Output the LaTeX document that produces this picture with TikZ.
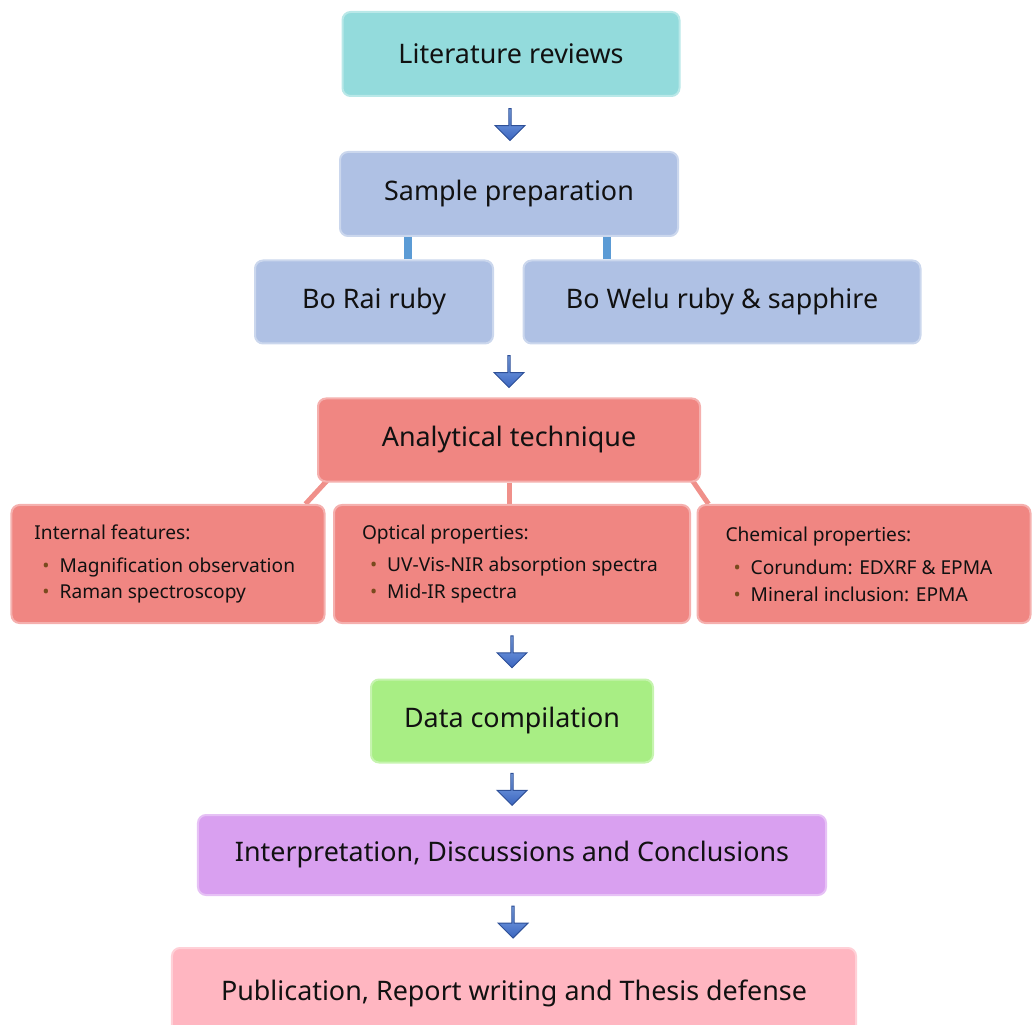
\documentclass[tikz,border=0pt]{standalone}
\usepackage{fontspec}
\setmainfont{Noto Sans}
\usetikzlibrary{positioning,backgrounds,calc,shapes.arrows}

\definecolor{litcol}{HTML}{93DBDC}
\definecolor{prepcol}{HTML}{AFC1E4}
\definecolor{anacol}{HTML}{F08682}
\definecolor{datacol}{HTML}{A8EE84}
\definecolor{intcol}{HTML}{D9A0F0}
\definecolor{pubcol}{HTML}{FFB6C1}
\definecolor{barcol}{HTML}{5B9BD5}
\definecolor{tiecol}{HTML}{F0908A}
\definecolor{dotcol}{HTML}{7A4A1E}
\definecolor{txtcol}{HTML}{111111}
\definecolor{arrtop}{HTML}{86ADEB}
\definecolor{arrbot}{HTML}{3A64BE}

\newcommand{\bitem}[1]{\hspace*{1.6mm}\textcolor{dotcol}{\textbullet}\hspace{2mm}#1}

\tikzset{
  box/.style={rectangle, rounded corners=1.6mm, fill=#1, draw=#1!65!white,
    line width=0.4mm, text=txtcol, align=center, inner sep=0pt,
    font=\fontsize{15.3}{18}\selectfont},
  listbox/.style={box=anacol, align=flush left, inner xsep=4.6mm,
    minimum height=23.6mm, font=\fontsize{10.9}{15.3}\selectfont},
  downarrow/.style={single arrow, shape border rotate=270, inner sep=0pt,
    minimum height=6.4mm, minimum width=6mm, single arrow head extend=1.3mm,
    single arrow head indent=0pt,
    top color=arrtop, bottom color=arrbot,
    draw=arrbot!80!black, line width=0.2mm},
  bar/.style={barcol, line width=1.6mm},
  tie/.style={tiecol, line width=1mm}
}

\begin{document}
\begin{tikzpicture}[x=0.2mm, y=-0.2mm]
\clip (0,0) rectangle (1033,1025);

\node[box=litcol, minimum width=67.4mm, minimum height=16.8mm] (lit) at(511,54) {Literature reviews};
\node[box=prepcol, minimum width=67.6mm, minimum height=16.8mm] (prep) at(509,194) {Sample preparation};

\node[box=prepcol, minimum width=47.6mm, minimum height=16.6mm] (borai) at(374,302) {Bo Rai ruby};
\node[box=prepcol, minimum width=79.4mm, minimum height=16.6mm] (bowelu) at(722,302) {Bo Welu ruby \& sapphire};

\node[box=anacol, minimum width=76.4mm, minimum height=16.6mm] (ana) at(509,440) {Analytical technique};

\node[listbox, text width=53.4mm] (intf) at(168,564)
  {Internal features:\\[1.2mm]\bitem{Magnification observation}\\\bitem{Raman spectroscopy}};
\node[listbox, text width=60mm, inner xsep=5.6mm] (optp) at(512,564)
  {Optical properties:\\[1.2mm]\bitem{UV-Vis-NIR absorption spectra}\\\bitem{Mid-IR spectra}};
\node[listbox, text width=55.4mm, inner xsep=5.6mm] (chemp) at(864,564)
  {Chemical properties:\\[1.2mm]\bitem{Corundum: EDXRF \& EPMA}\\\bitem{Mineral inclusion: EPMA}};

\node[box=datacol, minimum width=56.4mm, minimum height=16.6mm] (data) at(512,721) {Data compilation};
\node[box=intcol, minimum width=125.6mm, minimum height=16mm] (interp) at(512,855) {Interpretation, Discussions and Conclusions};
\node[box=pubcol, minimum width=136.8mm, minimum height=18mm] (pub) at(514,993) {Publication, Report writing and Thesis defense};

% block arrows between the steps
\node[downarrow] (a1) at($(lit.south)!0.5!(prep.north)$) {};
\node[downarrow] (a2) at($(borai.south -| ana.north)!0.5!(ana.north)$) {};
\node[downarrow] (a3) at($(optp.south)!0.5!(data.north)$) {};
\node[downarrow] (a4) at($(data.south)!0.5!(interp.north)$) {};
\node[downarrow] (a5) at($(interp.south)!0.5!(pub.north)$) {};

\coordinate (b1) at ($(borai.north)+(34,0)$);
\coordinate (b2) at ($(bowelu.north)+(-115,0)$);
\begin{scope}[on background layer]
\draw[bar] (b1) -- (b1 |- prep.south);
\draw[bar] (b2) -- (b2 |- prep.south);
\draw[tie] ($(ana.south west)+(12,-4)$) -- ($(intf.north east)+(-20,0)$);
\draw[tie] (ana.south) -- (ana.south |- optp.north);
\draw[tie] ($(ana.south east)+(-10,-4)$) -- ($(chemp.north west)+(12,0)$);
\end{scope}
\end{tikzpicture}
\end{document}
